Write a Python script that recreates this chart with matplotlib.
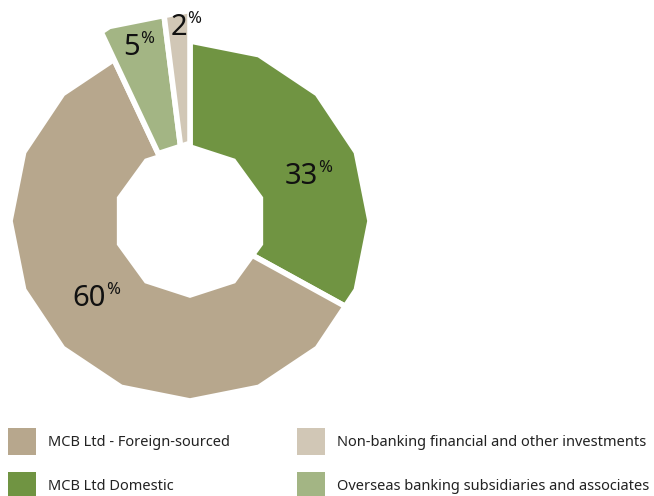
import numpy as np
import matplotlib.pyplot as plt
from matplotlib.patches import Polygon, Rectangle

plt.rcParams['font.family'] = ['Noto Sans', 'DejaVu Sans']

# donnees (sens horaire depuis le haut)
labels = ['MCB Ltd Domestic', 'MCB Ltd - Foreign-sourced',
          'Overseas banking subsidiaries and associates',
          'Non-banking financial and other investments']
values = [33, 60, 5, 2]
colors = ['#709442', '#B7A78D', '#A3B584', '#D1C7B6']
pct_text = ['33', '60', '5', '2']

# ordre de la legende (colonne par colonne)
legend_order = [1, 0, 3, 2]

# geometrie du donut (en pixels)
cx, cy = 190, 221
R_out, R_in = 180, 74
big = [1.0, 1.0, 1.17, 1.17]      # rayon ext. des petites parts
big_in = [1.0, 1.0, 1.05, 1.05]
n_out, n_in = 16, 10
label_pos = [(318, 184), (106, 306), (140, 55), (187, 35)]


def poly_r(theta, R, n):
    # rayon d'un polygone regulier de n cotes (sommet a 90 deg)
    step = 2 * np.pi / n
    k = np.floor((np.pi / 2 - theta) / step)
    v0 = np.pi / 2 - k * step
    mid = v0 - step / 2
    return R * np.cos(step / 2) / np.cos(theta - mid)


def edge(a0, a1, R, n):
    step = 2 * np.pi / n
    angs = [a0]
    k = np.ceil((np.pi / 2 - a0) / step + 1e-9)
    while np.pi / 2 - k * step > a1:
        angs.append(np.pi / 2 - k * step)
        k += 1
    angs.append(a1)
    angs = np.array(angs)
    r = np.array([poly_r(a + 1e-9 if i == 0 else a - 1e-9, R, n) for i, a in enumerate(angs)])
    return angs, r


fig = plt.figure(figsize=(6.54, 4.96), dpi=100)
ax = fig.add_axes([0, 0, 1, 1])
ax.set_xlim(0, 654)
ax.set_ylim(496, 0)
ax.axis('off')

start = np.pi / 2
total = sum(values)
for i, v in enumerate(values):
    a0 = start
    a1 = start - 2 * np.pi * v / total
    ao, ro = edge(a0, a1, R_out * big[i], n_out)
    ai, ri = edge(a0, a1, R_in * big_in[i], n_in)
    xo = cx + ro * np.cos(ao)
    yo = cy - ro * np.sin(ao)
    xi = cx + ri[::-1] * np.cos(ai[::-1])
    yi = cy - ri[::-1] * np.sin(ai[::-1])
    pts = np.column_stack([np.concatenate([xo, xi]), np.concatenate([yo, yi])])
    ax.add_patch(Polygon(pts, closed=True, facecolor=colors[i],
                         edgecolor='white', linewidth=4, joinstyle='miter'))
    lx, ly = label_pos[i]
    ax.text(lx, ly, pct_text[i], ha='right', va='baseline', fontsize=21, color='#111111')
    ax.text(lx, ly - 12, '%', ha='left', va='baseline', fontsize=12, color='#111111')
    start = a1

# legende
for j, idx in enumerate(legend_order):
    col, row = j // 2, j % 2
    x0 = 8 + col * 289
    y0 = 428 + row * 44
    ax.add_patch(Rectangle((x0, y0), 28, 27, facecolor=colors[idx], edgecolor='none'))
    ax.text(x0 + 40, y0 + 14, labels[idx], ha='left', va='center',
            fontsize=10.5, color='#222222')

plt.savefig('out.png', dpi=100)
